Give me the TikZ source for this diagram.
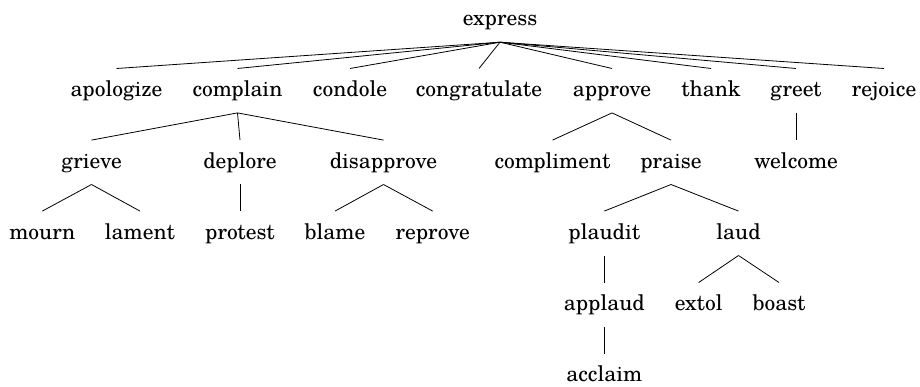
\documentclass[tikz,border=0pt]{standalone}
\usepackage{fontspec}
\setmainfont{TeX Gyre Schola}
\begin{document}
\begin{tikzpicture}[x=1pt,y=-1pt,
  w/.style={anchor=base,inner sep=0pt,text height=28pt,text depth=16pt,font=\fontsize{21.5}{24}\selectfont},
  edge/.style={line width=0.8pt}]
\useasboundingbox (0,0) rectangle (920,387);
% level 0
\node[w] (express) at (500,26) {express};
% level 1
\node[w] (apologize) at (116.5,96.7) {apologize};
\node[w] (complain) at (237.5,96.7) {complain};
\node[w] (condole) at (350,96.7) {condole};
\node[w] (congratulate) at (479,96.7) {congratulate};
\node[w] (approve) at (612,96.7) {approve};
\node[w] (thank) at (711,96.7) {thank};
\node[w] (greet) at (796,96.7) {greet};
\node[w] (rejoice) at (884,96.7) {rejoice};
% level 2
\node[w] (grieve) at (91.5,168.3) {grieve};
\node[w] (deplore) at (240,168.3) {deplore};
\node[w] (disapprove) at (383.5,168.3) {disapprove};
\node[w] (compliment) at (552.5,168.3) {compliment};
\node[w] (praise) at (671,168.3) {praise};
\node[w] (welcome) at (796,168.3) {welcome};
% level 3
\node[w] (mourn) at (42.3,239.3) {mourn};
\node[w] (lament) at (140,239.3) {lament};
\node[w] (protest) at (240,239.3) {protest};
\node[w] (blame) at (335,239.3) {blame};
\node[w] (reprove) at (432.7,239.3) {reprove};
\node[w] (plaudit) at (604.3,239.3) {plaudit};
\node[w] (laud) at (738.5,239.3) {laud};
% level 4
\node[w] (applaud) at (604.3,310.7) {applaud};
\node[w] (extol) at (698.7,310.7) {extol};
\node[w] (boast) at (779,310.7) {boast};
% level 5
\node[w] (acclaim) at (604.3,381.7) {acclaim};
% edges
\foreach \c in {apologize,complain,condole,congratulate,approve,thank,greet,rejoice}
  \draw[edge] (express.south) -- (\c.north);
\foreach \c in {grieve,deplore,disapprove} \draw[edge] (complain.south) -- (\c.north);
\foreach \c in {compliment,praise} \draw[edge] (approve.south) -- (\c.north);
\draw[edge] (greet.south) -- (welcome.north);
\foreach \c in {mourn,lament} \draw[edge] (grieve.south) -- (\c.north);
\draw[edge] (deplore.south) -- (protest.north);
\foreach \c in {blame,reprove} \draw[edge] (disapprove.south) -- (\c.north);
\foreach \c in {plaudit,laud} \draw[edge] (praise.south) -- (\c.north);
\draw[edge] (plaudit.south) -- (applaud.north);
\foreach \c in {extol,boast} \draw[edge] (laud.south) -- (\c.north);
\draw[edge] (applaud.south) -- (acclaim.north);
\end{tikzpicture}
\end{document}
